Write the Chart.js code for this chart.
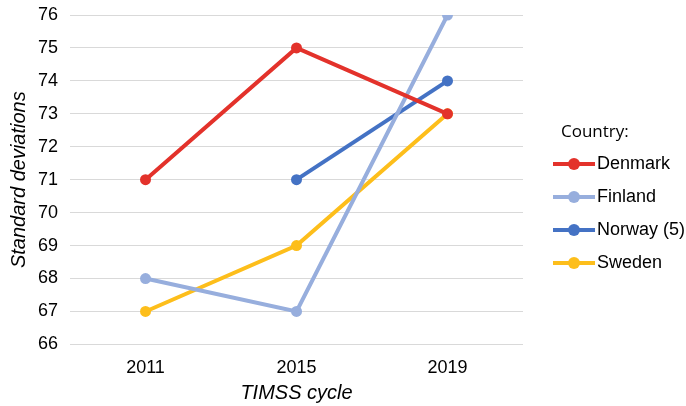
<!DOCTYPE html>
<html>
<head>
<meta charset="utf-8">
<script src="https://cdn.jsdelivr.net/npm/chart.js@4/dist/chart.umd.min.js"></script>
<style>
  html, body { margin: 0; padding: 0; background: #fff; }
  #wrap { position: relative; width: 686px; height: 406px; }
  #legend { position: absolute; left: 553px; top: 117px; font-family: "Liberation Sans", Arial, sans-serif; color: #000; }
  #legend .title { font-family: "Open Sans", sans-serif; font-size: 17px; height: 30px; line-height: 28px; padding-left: 8px; }
  #legend .item { display: flex; align-items: center; height: 33px; font-size: 18px; }
  #legend .sym { position: relative; width: 42px; height: 16px; margin-right: 2px; }
  #legend .sym .ln { position: absolute; left: 0; right: 0; top: 6px; height: 4px; }
  #legend .sym .dot { position: absolute; left: 15px; top: 2px; width: 12px; height: 12px; border-radius: 50%; }
</style>
</head>
<body>
<div id="wrap">
  <canvas id="c" width="686" height="406"></canvas>
  <div id="legend"></div>
</div>
<script>
// data
const years = ['2011', '2015', '2019'];
const countries = ['Denmark', 'Finland', 'Norway (5)', 'Sweden'];
const denmark = [71, 75, 73];
const finland = [68, 67, 76];
const norway = [null, 71, 74];
const sweden = [67, 69, 73];
const colors = ['#E3322B', '#97AEDD', '#4472C4', '#FDBE1B'];

const seriesValues = [denmark, finland, norway, sweden];

const ctx = document.getElementById('c').getContext('2d');
new Chart(ctx, {
    type: 'line',
    data: {
        labels: years,
        datasets: countries.map((name, i) => ({
            label: name,
            data: seriesValues[i],
            borderColor: colors[i],
            backgroundColor: colors[i],
            borderWidth: 4,
            pointRadius: 5.5,
            pointBorderWidth: 0,
            pointBackgroundColor: colors[i],
            tension: 0,
            spanGaps: false
        }))
    },
    options: {
        responsive: false,
        animation: false,
        layout: { padding: { top: 0, right: 163, left: 3, bottom: 0 } },
        plugins: { legend: { display: false }, tooltip: { enabled: false } },
        scales: {
            x: {
                offset: true,
                grid: { display: false },
                border: { display: false },
                ticks: { color: '#000', font: { family: 'Liberation Sans', size: 18 }, padding: 5 },
                title: {
                    display: true, text: 'TIMSS cycle', color: '#000',
                    font: { family: 'Liberation Sans', size: 20, style: 'italic' }, padding: { top: -3, bottom: 1 }
                }
            },
            y: {
                min: 66, max: 76,
                ticks: { stepSize: 1, color: '#000', font: { family: 'Liberation Sans', size: 18 }, padding: 12 },
                grid: { color: '#d9d9d9', lineWidth: 1, drawTicks: false },
                border: { display: false },
                title: {
                    display: true, text: 'Standard deviations', color: '#000',
                    font: { family: 'Liberation Sans', size: 20, style: 'italic' }, padding: { top: 4, bottom: -5 }
                },
                // top gridline sits close to the canvas edge
                afterFit: (axis) => { axis.paddingTop = 15; }
            }
        }
    }
});

// html legend
const legend = document.getElementById('legend');
legend.innerHTML = '<div class="title">Country:</div>' + countries.map((name, i) =>
    `<div class="item"><span class="sym"><span class="ln" style="background:${colors[i]}"></span>` +
    `<span class="dot" style="background:${colors[i]}"></span></span>${name}</div>`).join('');
</script>
</body>
</html>
